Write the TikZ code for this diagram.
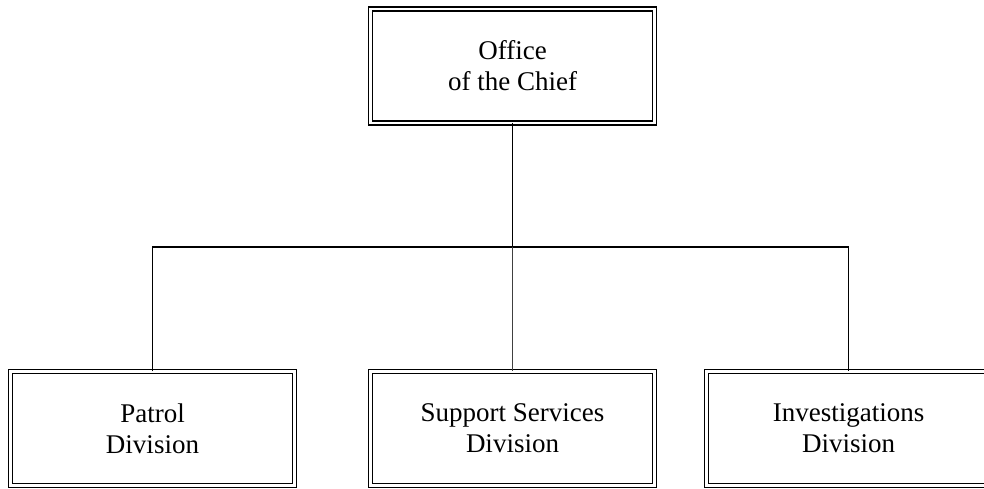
\documentclass[tikz,border=0pt]{standalone}
\usepackage{fontspec}
\setmainfont{Liberation Serif}
\usepackage{tikz}
\usetikzlibrary{positioning, calc}

\begin{document}
\begin{tikzpicture}[
            x=1pt, y=1pt,
            amt/.style={
                    draw,
                    double,
                    double distance=2.2pt,
                    line width=1.5pt,
                    minimum width=284pt,
                    minimum height=114pt,
                    outer sep=0pt,
                    align=center,
                    font=\fontsize{27}{31}\selectfont
                },
            linie/.style={
                    draw,
                    line width=1.6pt
                },
            duenn/.style={
                    draw,
                    line width=0.9pt,
                    color=black!75
                }
        ]

        \useasboundingbox (0,0) rectangle (984,489);

        \node[amt] (chief) at (512.5,423) {Office\\of the Chief};

        \node[amt] (patrol) at (152.5,60.5) {Patrol\\Division};
        \node[amt] (support) at (512.5,60.5) {Support Services\\Division};
        \node[amt] (invest) at (848.5,60.5) {Investigations\\Division};

        \coordinate (bus) at (support.north |- 0,242);

        \draw[linie] (chief.south) -- (bus);
        \draw[linie] (patrol.north) |- (bus) -| (invest.north);
        \draw[duenn] (bus) -- (support.north);

    \end{tikzpicture}
\end{document}
